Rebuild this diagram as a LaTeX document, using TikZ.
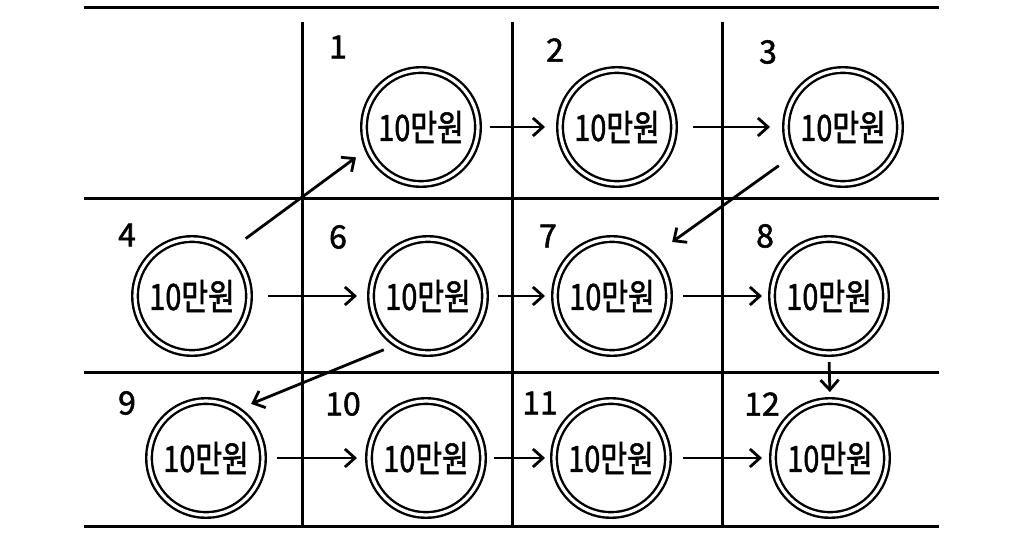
\documentclass[tikz,border=0pt]{standalone}
\usepackage{fontspec}
\setmainfont[AutoFakeBold=1.6]{Noto Sans CJK KR}
\usetikzlibrary{arrows.meta}
\begin{document}
\begin{tikzpicture}[x=1pt,y=-1pt,
 coin/.style={circle,draw=black,line width=2.4pt,double=white,double distance=3.2pt,minimum size=114pt,inner sep=0pt,outer sep=4pt,font=\fontsize{29}{29}\selectfont\bfseries},
 num/.style={font=\fontsize{32}{32}\selectfont\bfseries,inner sep=0pt},
 arr/.style={line width=2.8pt,-{Straight Barb[length=10pt,width=18pt]}},
 gridline/.style={line width=3pt}]
\useasboundingbox[fill=white] (0,0) rectangle (1024,559);
% grid
\draw[gridline] (84,8) -- (939,8);
\draw[gridline] (84,198) -- (939,198);
\draw[gridline] (84,372) -- (939,372);
\draw[gridline] (84,526) -- (939,526);
\draw[gridline] (302,22) -- (302,526);
\draw[gridline] (512,22) -- (512,526);
\draw[gridline] (722,22) -- (722,526);
% coins
\node[coin] (c1) at (421,127) {\scalebox{1}[1.25]{10만원}};
\node[coin] (c2) at (617,127) {\scalebox{1}[1.25]{10만원}};
\node[coin] (c3) at (843,127) {\scalebox{1}[1.25]{10만원}};
\node[coin] (c4) at (192,296) {\scalebox{1}[1.25]{10만원}};
\node[coin] (c6) at (428,296) {\scalebox{1}[1.25]{10만원}};
\node[coin] (c7) at (612,296) {\scalebox{1}[1.25]{10만원}};
\node[coin] (c8) at (829,296) {\scalebox{1}[1.25]{10만원}};
\node[coin] (c9) at (206,458) {\scalebox{1}[1.25]{10만원}};
\node[coin] (c10) at (426,458) {\scalebox{1}[1.25]{10만원}};
\node[coin] (c11) at (611,458) {\scalebox{1}[1.25]{10만원}};
\node[coin] (c12) at (830,458) {\scalebox{1}[1.25]{10만원}};
% numbers
\node[num] (n1) at (338,47) {1};
\node[num] (n2) at (555,50) {2};
\node[num] (n3) at (768,52) {3};
\node[num] (n4) at (127,235) {4};
\node[num] (n6) at (338,237) {6};
\node[num] (n7) at (548,236) {7};
\node[num] (n8) at (765,236) {8};
\node[num] (n9) at (127,403) {9};
\node[num] (n10) at (343,404) {10};
\node[num] (n11) at (540,403) {11};
\node[num] (n12) at (762,404) {12};
% arrows
\draw[arr,shorten <=8pt,shorten >=11pt] (c1.east) -- (c2.west);
\draw[arr,shorten <=15pt,shorten >=12pt] (c2.east) -- (c3.west);
\draw[arr,shorten <=18pt,shorten >=11pt] (c4.50) -- (c1.203);
\draw[arr,shorten <=14pt,shorten >=20pt] (c3.210) -- (c7.44);
\draw[arr,shorten <=15pt,shorten >=10pt] (c4.east) -- (c6.west);
\draw[arr,shorten <=9pt,shorten >=6pt] (c6.east) -- (c7.west);
\draw[arr,shorten <=10pt,shorten >=6pt] (c7.east) -- (c8.west);
\draw[arr,shorten <=10pt,shorten >=11pt] (c6.235) -- (c9.55);
\draw[arr,shorten <=5pt,shorten >=5pt] (c8.south) -- (c12.north);
\draw[arr,shorten <=10pt,shorten >=8pt] (c9.east) -- (c10.west);
\draw[arr,shorten <=7pt,shorten >=5pt] (c10.east) -- (c11.west);
\draw[arr,shorten <=11pt,shorten >=7pt] (c11.east) -- (c12.west);
\end{tikzpicture}
\end{document}
